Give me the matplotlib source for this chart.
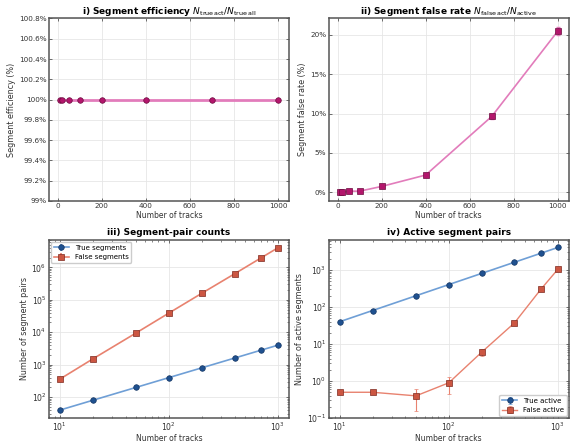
import numpy as np
import matplotlib
matplotlib.use("Agg")
import matplotlib.pyplot as plt
from matplotlib.ticker import FuncFormatter

tracks = np.array([10, 20, 50, 100, 200, 400, 700, 1000])

efficiency = np.array([100, 100, 100, 100, 100, 100, 100, 100])
false_rate = np.array([0.0, 0.0, 0.15, 0.15, 0.75, 2.2, 9.65, 20.5])
false_rate_err = np.array([0.05, 0.05, 0.1, 0.1, 0.1, 0.15, 0.3, 0.5])

true_segments = np.array([40, 80, 200, 400, 800, 1600, 2800, 4000])
false_segments = np.array([360, 1500, 9500, 39000, 158000, 630000, 1950000, 4000000])

true_active = np.array([40, 80, 200, 400, 800, 1600, 2800, 4000])
false_active = np.array([0.5, 0.5, 0.4, 0.9, 6.0, 37, 300, 1030])
false_active_lo = np.array([0.0, 0.0, 0.24, 0.44, 1.2, 3, 20, 120])
false_active_hi = np.array([0.0, 0.0, 0.22, 0.4, 1.5, 4, 25, 130])

plt.rcParams.update({
    "font.size": 5,
    "axes.edgecolor": "#555555",
    "axes.linewidth": 1.1,
    "xtick.direction": "in",
    "ytick.direction": "in",
    "xtick.top": True,
    "ytick.right": True,
    "xtick.labelsize": 5.2,
    "ytick.labelsize": 5.2,
    "axes.labelsize": 5.5,
    "axes.labelcolor": "#333333",
    "xtick.color": "#555555",
    "ytick.color": "#555555",
    "xtick.labelcolor": "#333333",
    "ytick.labelcolor": "#333333",
})

fig = plt.figure(figsize=(5.71, 4.43), dpi=100)
W = 0.42
H = 0.412
ax1 = fig.add_axes([0.0858, 0.5463, W, H])
ax2 = fig.add_axes([0.576, 0.5463, W, H])
ax3 = fig.add_axes([0.0858, 0.056, W, 0.403])
ax4 = fig.add_axes([0.576, 0.056, W, 0.403])

pink_line = "#e27cbb"
pink_mark = "#b3166c"
pink_edge = "#6b0a3e"
blue_line = "#6f9fd6"
blue_mark = "#1f5190"
blue_edge = "#123260"
red_line = "#e8826f"
red_mark = "#cc5642"
red_edge = "#7d2a1f"

for ax in (ax1, ax2, ax3, ax4):
    ax.grid(True, color="#e6e6e6", linewidth=0.6)
    ax.set_axisbelow(True)
    ax.tick_params(which="major", length=2.5, width=0.6, pad=1.8)
    ax.tick_params(which="minor", length=1.5, width=0.5)
    ax.set_xlabel("Number of tracks", labelpad=1)

# i) efficiency
ax1.plot(tracks, efficiency, color=pink_line, lw=2.0, zorder=2)
ax1.plot(tracks, efficiency, "o", color=pink_mark, mec=pink_edge, mew=0.5, ms=4, zorder=3)
ax1.set_ylim(99, 100.8)
ax1.set_yticks(np.arange(99, 100.81, 0.2))
ax1.yaxis.set_major_formatter(FuncFormatter(lambda v, p: "{:g}%".format(round(v, 1))))
ax1.set_xticks([0, 200, 400, 600, 800, 1000])
ax1.set_ylabel("Segment efficiency (%)", fontsize=5.8, labelpad=2)
ax1.set_title(r"i) Segment efficiency $N_{\mathrm{true\,act}}/N_{\mathrm{true\,all}}$",
              fontsize=6.5, fontweight="bold", pad=3)

# ii) false rate
ax2.errorbar(tracks, false_rate, yerr=false_rate_err, color=pink_line, lw=1.2,
             ecolor=pink_line, elinewidth=0.8, capsize=1.5, zorder=2)
ax2.plot(tracks, false_rate, "s", color=pink_mark, mec=pink_edge, mew=0.5, ms=4, zorder=3)
ax2.set_ylim(-1.1, 22.1)
ax2.set_yticks([0, 5, 10, 15, 20])
ax2.yaxis.set_major_formatter(FuncFormatter(lambda v, p: "{:g}%".format(v)))
ax2.set_xticks([0, 200, 400, 600, 800, 1000])
ax2.set_ylabel("Segment false rate (%)", fontsize=5.8, labelpad=2)
ax2.set_title(r"ii) Segment false rate $N_{\mathrm{false\,act}}/N_{\mathrm{active}}$",
              fontsize=6.5, fontweight="bold", pad=3)

# iii) pair counts
ax3.errorbar(tracks, true_segments, yerr=0 * true_segments, fmt="-o", color=blue_line, lw=1.2,
             mfc=blue_mark, mec=blue_edge, mew=0.5, ms=4, capsize=0, label="True segments")
ax3.errorbar(tracks, false_segments, yerr=0 * false_segments, fmt="-s", color=red_line, lw=1.2,
             mfc=red_mark, mec=red_edge, mew=0.5, ms=4, capsize=0, label="False segments")
ax3.set_xscale("log")
ax3.set_yscale("log")
ax3.set_ylabel("Number of segment pairs", fontsize=5.8, labelpad=2)
ax3.set_title("iii) Segment-pair counts", fontsize=6.5, fontweight="bold", pad=3)
ax3.legend(loc="upper left", fontsize=5, frameon=True, framealpha=1, edgecolor="#cccccc",
           fancybox=True, borderaxespad=0.3, handlelength=2.2)

# iv) active pairs
ax4.errorbar(tracks, true_active, yerr=0.02 * true_active, fmt="-o", color=blue_line, lw=1.2,
             mfc=blue_mark, mec=blue_edge, mew=0.5, ms=4, ecolor=blue_line, elinewidth=0.8,
             capsize=1.5, label="True active")
ax4.errorbar(tracks, false_active, yerr=[false_active_lo, false_active_hi], fmt="-s", color=red_line,
             lw=1.0, mfc=red_mark, mec=red_edge, mew=0.5, ms=4, ecolor=red_line, elinewidth=0.8,
             capsize=1.5, label="False active")
ax4.set_xscale("log")
ax4.set_yscale("log")
ax4.set_ylim(0.1, 6500)
ax4.set_ylabel("Number of active segments", fontsize=5.8, labelpad=2)
ax4.set_title("iv) Active segment pairs", fontsize=6.5, fontweight="bold", pad=3)
ax4.legend(loc="lower right", fontsize=5, frameon=True, framealpha=1, edgecolor="#cccccc",
           fancybox=True, borderaxespad=0.3, handlelength=2.2)

for ax in (ax3, ax4):
    ax.tick_params(which="major", labelsize=5.6)

fig.savefig("out.png", dpi=100)
